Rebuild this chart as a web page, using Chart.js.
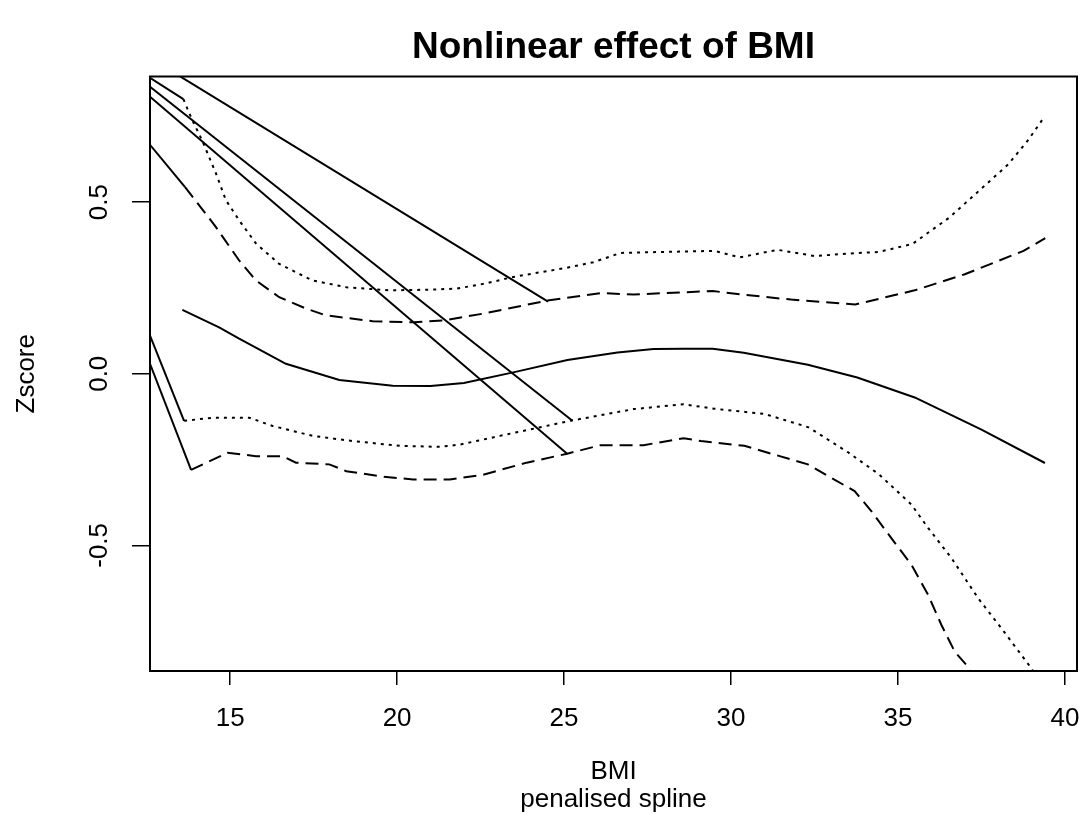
<!DOCTYPE html>
<html>
<head>
<meta charset="utf-8">
<title>Nonlinear effect of BMI</title>
<script src="https://cdn.jsdelivr.net/npm/chart.js@4.4.1/dist/chart.umd.min.js"></script>
<style>
  body { margin: 0; background: #fff; }
</style>
</head>
<body>
<canvas id="grafico" width="1087" height="814"></canvas>
<script>
const titulo = 'Nonlinear effect of BMI'
const bmiTicks = [15, 20, 25, 30, 35, 40]
const zTicks = [-0.5, 0, 0.5]

// fitted spline
const fitBmi = [13.57, 14.67, 15.27, 16.67, 18.27, 19.87, 21.0, 22.0, 23.48, 25.1, 26.6, 27.68, 28.6, 29.45, 30.38, 32.3, 33.78, 35.5, 37.5, 39.4]
const fitZ = [0.186, 0.135, 0.102, 0.029, -0.018, -0.035, -0.036, -0.027, 0.004, 0.04, 0.062, 0.072, 0.073, 0.073, 0.061, 0.026, -0.011, -0.069, -0.163, -0.26]

// dotted bands
const dotUpBmi = [13.6, 13.86, 14.16, 14.57, 14.87, 15.27, 15.77, 16.47, 17.46, 18.48, 19.78, 21.0, 21.78, 22.6, 23.48, 25.09, 25.88, 26.69, 28.0, 29.5, 30.25, 31.4, 32.5, 33.5, 34.43, 35.43, 36.55, 37.55, 38.3, 38.9, 39.4]
const dotUpZ = [0.80, 0.74, 0.68, 0.585, 0.506, 0.447, 0.38, 0.32, 0.272, 0.252, 0.243, 0.245, 0.248, 0.262, 0.282, 0.309, 0.325, 0.352, 0.355, 0.358, 0.339, 0.361, 0.343, 0.350, 0.355, 0.378, 0.456, 0.544, 0.61, 0.681, 0.751]
const dotLowBmi = [13.62, 14.5, 15.57, 16.27, 17.47, 18.67, 20.08, 21.28, 21.9, 23.08, 25.19, 27.08, 28.58, 29.5, 31.0, 32.32, 33.52, 34.43, 35.4, 35.9, 36.6, 37.4, 38.1, 39.0, 39.4]
const dotLowZ = [-0.137, -0.128, -0.128, -0.152, -0.181, -0.196, -0.21, -0.213, -0.206, -0.181, -0.137, -0.103, -0.089, -0.102, -0.117, -0.156, -0.23, -0.293, -0.381, -0.449, -0.537, -0.654, -0.742, -0.859, -0.93]

// dashed bands
const dashUpBmi = [13.65, 14.57, 15.27, 15.77, 16.47, 17.27, 17.87, 19.27, 20.5, 21.38, 22.57, 24.49, 26.09, 27.08, 29.45, 30.3, 31.8, 33.72, 35.5, 37.0, 38.76, 39.41]
const dashUpZ = [0.544, 0.428, 0.33, 0.272, 0.223, 0.19, 0.17, 0.153, 0.15, 0.155, 0.175, 0.213, 0.235, 0.231, 0.241, 0.231, 0.216, 0.202, 0.243, 0.29, 0.358, 0.395]
const dashLowBmi = [13.83, 14.07, 14.92, 15.77, 16.57, 16.97, 17.97, 18.48, 19.58, 20.48, 21.58, 22.58, 23.88, 25.09, 26.09, 27.38, 28.58, 29.1, 30.4, 32.3, 33.7, 34.2, 34.8, 35.4, 35.9, 36.3, 36.7, 37.1, 37.6]
const dashLowZ = [-0.28, -0.269, -0.23, -0.24, -0.24, -0.259, -0.264, -0.284, -0.30, -0.308, -0.308, -0.294, -0.259, -0.233, -0.208, -0.208, -0.188, -0.196, -0.21, -0.264, -0.342, -0.40, -0.479, -0.556, -0.644, -0.732, -0.81, -0.854, -0.96]

// straight solid segments coming in from the left edge
const segStartBmi = [12.6, 12.6, 12.6, 12.6, 12.6, 12.6, 12.6]
const segStartZ = [0.92, 0.862, 0.836, 0.807, 0.667, 0.111, 0.029]
const segEndBmi = [24.52, 13.6, 25.25, 25.1, 13.65, 13.62, 13.83]
const segEndZ = [0.21, 0.80, -0.137, -0.234, 0.544, -0.137, -0.28]

const fuente = "'Liberation Sans', Arial, Helvetica, sans-serif"

const puntos = (xs, ys) => xs.map((x, i) => ({ x: x, y: ys[i] }))

const serie = (data, dash) => ({
    data: data,
    borderColor: '#000',
    borderWidth: 2,
    borderDash: dash,
    pointRadius: 0,
    tension: 0,
    fill: false
})

const datasets = [
    serie(puntos(fitBmi, fitZ), []),
    serie(puntos(dotUpBmi, dotUpZ), [3, 5]),
    serie(puntos(dotLowBmi, dotLowZ), [3, 5]),
    serie(puntos(dashUpBmi, dashUpZ), [13, 7]),
    serie(puntos(dashLowBmi, dashLowZ), [13, 7])
]

segStartBmi.forEach((x0, i) => {
    datasets.push(serie([
        { x: x0, y: segStartZ[i] },
        { x: segEndBmi[i], y: segEndZ[i] }
    ], []))
})

// box around the plot region and title centred over it, like R does
const marco = {
    id: 'marco',
    afterDraw(chart) {
        const { ctx, chartArea: a } = chart
        ctx.save()
        ctx.strokeStyle = '#000'
        ctx.lineWidth = 2
        ctx.strokeRect(a.left, a.top, a.right - a.left, a.bottom - a.top)
        ctx.fillStyle = '#000'
        ctx.font = 'bold 37px ' + fuente
        ctx.textAlign = 'center'
        ctx.textBaseline = 'middle'
        ctx.fillText(titulo, (a.left + a.right) / 2, 48)
        ctx.restore()
    }
}

const ctx = document.getElementById('grafico').getContext('2d')

new Chart(ctx, {
    type: 'line',
    data: { datasets: datasets },
    options: {
        responsive: false,
        animation: false,
        devicePixelRatio: 1,
        layout: { padding: { left: 0, right: 10, top: 76.5, bottom: 0 } },
        plugins: {
            legend: { display: false },
            tooltip: { enabled: false },
            title: { display: false }
        },
        scales: {
            x: {
                type: 'linear',
                min: 12.6,
                max: 40.36,
                afterBuildTicks: (s) => { s.ticks = bmiTicks.map(v => ({ value: v })) },
                afterFit: (s) => {
                    s.height = 143
                    s.paddingLeft = 0
                    s.paddingRight = 0
                },
                border: { display: false },
                grid: { drawOnChartArea: false, drawTicks: true, tickLength: 14, color: '#000', lineWidth: 1.5 },
                ticks: { color: '#000', autoSkip: false, maxRotation: 0, padding: 18, font: { family: fuente, size: 26 }, callback: (v) => v },
                title: {
                    display: true,
                    text: ['BMI', 'penalised spline'],
                    color: '#000',
                    font: { family: fuente, size: 26, lineHeight: 1.08 },
                    padding: 0
                }
            },
            y: {
                type: 'linear',
                min: -0.866,
                max: 0.866,
                afterBuildTicks: (s) => { s.ticks = zTicks.map(v => ({ value: v })) },
                afterFit: (s) => {
                    s.width = 150
                    s.paddingTop = 0
                    s.paddingBottom = 0
                },
                border: { display: false },
                grid: { drawOnChartArea: false, drawTicks: true, tickLength: 18, color: '#000', lineWidth: 1.5 },
                ticks: { color: '#000', minRotation: 90, maxRotation: 90, crossAlign: 'center', padding: 10, font: { family: fuente, size: 26 }, callback: (v) => v.toFixed(1) },
                title: {
                    display: true,
                    text: 'Zscore',
                    color: '#000',
                    font: { family: fuente, size: 26, lineHeight: 1.2 },
                    padding: { top: 11, bottom: 0 }
                }
            }
        }
    },
    plugins: [marco]
})
</script>
</body>
</html>
